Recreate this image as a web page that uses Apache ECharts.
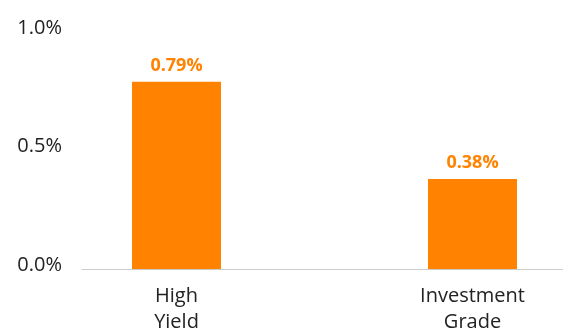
<!DOCTYPE html>
<html><head><meta charset="utf-8">
<script src="https://cdn.jsdelivr.net/npm/echarts@6/dist/echarts.min.js"></script>
<style>html,body{margin:0;padding:0;background:#fff}#c{width:563px;height:331px}</style>
</head><body><div id="c"></div>
<script>
const categories = ['High\nYield', 'Investment\nGrade'];
const values = [0.79, 0.38];
const yTicks = [0, 0.5, 1.0];

const chart = echarts.init(document.getElementById('c'), null, {renderer: 'canvas'});
const font = '"Open Sans", sans-serif';
chart.setOption({
  animation: false,
  grid: [
    {left: 82, right: 0, top: 32, bottom: 62, outerBoundsMode: 'none', containLabel: false},
    {left: 28.5, width: 592, top: 32, bottom: 62, outerBoundsMode: 'none', containLabel: false}
  ],
  xAxis: [
    {gridIndex: 0, type: 'category', data: [''], axisLine: {show: true, lineStyle: {color: '#cccccc', width: 1}}, axisTick: {show: false}, axisLabel: {show: false}},
    {gridIndex: 1, type: 'category', data: categories, axisLine: {show: false}, axisTick: {show: false},
     axisLabel: {color: '#222', fontFamily: font, fontSize: 20, lineHeight: 26, margin: 14}}
  ],
  yAxis: [
    {gridIndex: 0, type: 'value', min: yTicks[0], max: yTicks[yTicks.length - 1], interval: 0.5,
     axisLine: {show: false}, axisTick: {show: false}, splitLine: {show: false},
     axisLabel: {color: '#222', fontFamily: font, fontSize: 20, margin: 20, verticalAlign: 'bottom', lineHeight: 8,
       formatter: v => v.toFixed(1) + '%'}},
    {gridIndex: 1, type: 'value', min: yTicks[0], max: yTicks[yTicks.length - 1], show: false}
  ],
  series: [{
    type: 'bar', xAxisIndex: 1, yAxisIndex: 1, data: values, barWidth: 89,
    itemStyle: {color: '#FF8300'},
    label: {show: true, position: 'top', distance: 7, color: '#FF8300', fontFamily: font, fontWeight: 'bold', fontSize: 18,
      formatter: p => p.value.toFixed(2) + '%'}
  }]
});
</script></body></html>
